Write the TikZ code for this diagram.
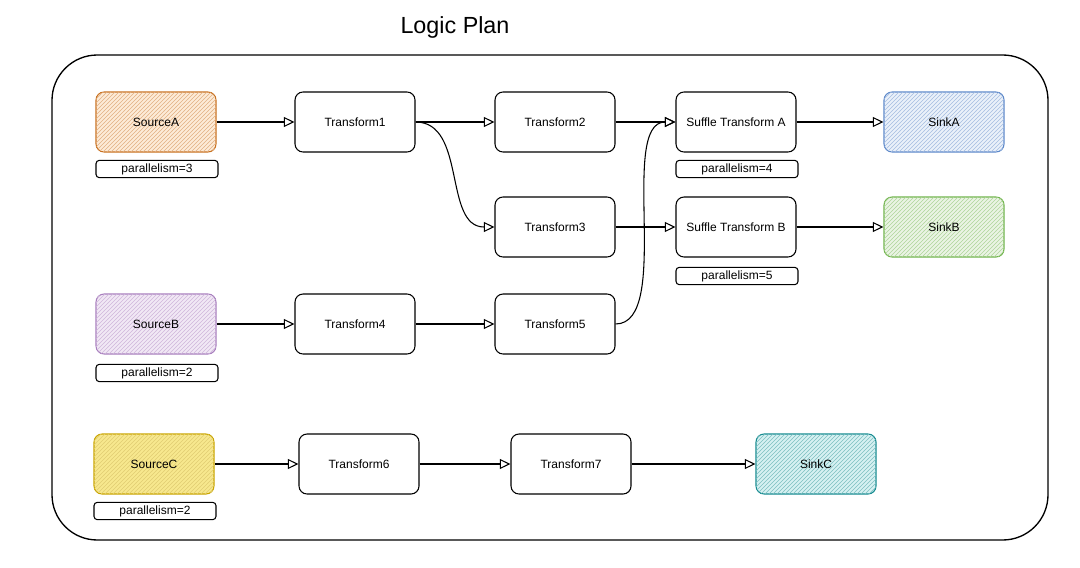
\documentclass[tikz,border=0pt]{standalone}
\usepackage{fontspec}
\setmainfont{Liberation Sans}
\usetikzlibrary{arrows.meta,patterns}

\definecolor{orangeline}{HTML}{C8701E}
\definecolor{orangefill}{HTML}{FDEBD7}
\definecolor{purpleline}{HTML}{A77DBD}
\definecolor{purplefill}{HTML}{F1E8F5}
\definecolor{yellowline}{HTML}{C9A400}
\definecolor{yellowfill}{HTML}{F7E88E}
\definecolor{blueline}{HTML}{5B87C9}
\definecolor{bluefill}{HTML}{EAF1FA}
\definecolor{greenline}{HTML}{6EB34A}
\definecolor{greenfill}{HTML}{EAF4E4}
\definecolor{tealline}{HTML}{138A8F}
\definecolor{tealfill}{HTML}{D6F1F2}

\begin{document}
\begin{tikzpicture}[x=0.75pt,y=-0.75pt,
    box/.style={draw, line width=0.8pt, rounded corners=6pt, minimum width=90pt,
      minimum height=45pt, font=\fontsize{9}{11}\selectfont},
    colbox/.style 2 args={box, draw=#1, fill=#2,
      postaction={pattern=north east lines, pattern color=#1!55}},
    parbox/.style={draw, line width=0.8pt, rounded corners=2.5pt, minimum width=91.5pt,
      minimum height=13pt, inner sep=0pt, font=\fontsize{9}{11}\selectfont},
    flow/.style={-{Triangle[open,length=8pt,width=7.5pt]}, line width=0.8pt}]
  \useasboundingbox (0,0) rectangle (1080,567);

  \node[font=\fontsize{17.5}{21}\selectfont] (title) at (455,27) {Logic Plan};
  \draw[line width=1pt, rounded corners=34pt] (52,55) rectangle (1048,540);

  % row A
  \node[colbox={orangeline}{orangefill}] (srcA) at (156,122) {SourceA};
  \node[parbox] (parA) at (157,169) {parallelism=3};
  \node[box] (t1) at (355,122) {Transform1};
  \node[box] (t2) at (555,122) {Transform2};
  \node[box] (shufA) at (736,122) {Suffle Transform A};
  \node[parbox] (parShufA) at (737,169) {parallelism=4};
  \node[colbox={blueline}{bluefill}] (sinkA) at (944,122) {SinkA};

  % row B
  \node[box] (t3) at (555,227) {Transform3};
  \node[box] (shufB) at (736,227) {Suffle Transform B};
  \node[parbox] (parShufB) at (737,276) {parallelism=5};
  \node[colbox={greenline}{greenfill}] (sinkB) at (944,227) {SinkB};

  \node[colbox={purpleline}{purplefill}] (srcB) at (156,324) {SourceB};
  \node[parbox] (parB) at (157,373) {parallelism=2};
  \node[box] (t4) at (355,324) {Transform4};
  \node[box] (t5) at (555,324) {Transform5};

  % row C
  \node[colbox={yellowline}{yellowfill}] (srcC) at (154,464) {SourceC};
  \node[parbox] (parC) at (155,511) {parallelism=2};
  \node[box] (t6) at (359,464) {Transform6};
  \node[box] (t7) at (571,464) {Transform7};
  \node[colbox={tealline}{tealfill}] (sinkC) at (816,464) {SinkC};

  % edges
  \draw[flow] (srcA) -- (t1);
  \draw[flow] (t1) -- (t2);
  \draw[flow] (t1.east) to[out=0,in=180] (t3.west);
  \draw[flow] (t2) -- (shufA);
  \draw[flow] (t3) -- (shufB);
  \draw[flow] (shufA) -- (sinkA);
  \draw[flow] (shufB) -- (sinkB);
  \draw[flow] (srcB) -- (t4);
  \draw[flow] (t4) -- (t5);
  \draw[flow] (t5.east) to[out=0,in=180,looseness=0.7] (shufA.west);
  \draw[flow] (srcC) -- (t6);
  \draw[flow] (t6) -- (t7);
  \draw[flow] (t7) -- (sinkC);
\end{tikzpicture}
\end{document}
